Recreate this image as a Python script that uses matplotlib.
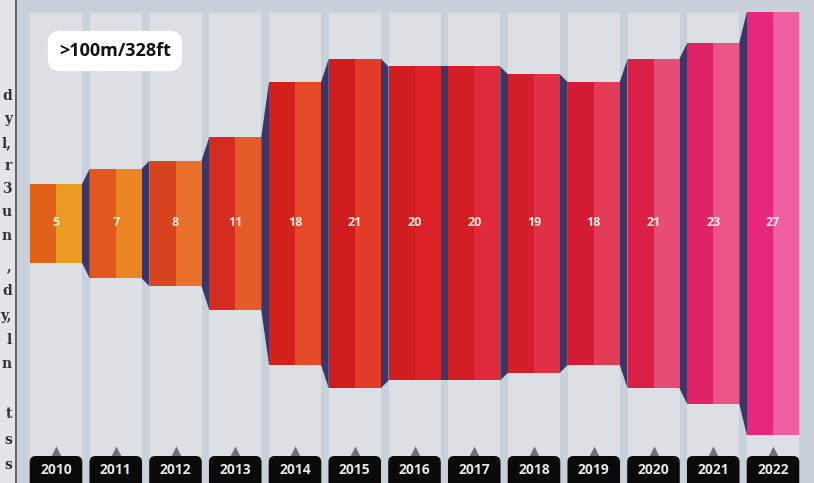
import matplotlib.pyplot as plt
import matplotlib
from matplotlib.patches import Rectangle, Polygon, FancyBboxPatch
import numpy as np

matplotlib.rcParams['font.family'] = ['Open Sans', 'DejaVu Sans']

# data
years = ['2010', '2011', '2012', '2013', '2014', '2015', '2016',
         '2017', '2018', '2019', '2020', '2021', '2022']
counts = [5, 7, 8, 11, 18, 21, 20, 20, 19, 18, 21, 23, 27]
left_colors = ['#e0621a', '#e0581e', '#d84420', '#d42c1e', '#d2201a', '#d01c1c', '#d01e20',
               '#d21e22', '#d41e2a', '#d41c34', '#da2046', '#e02268', '#e8267e']
right_colors = ['#eb9a22', '#ec8424', '#e8702a', '#e45c2a', '#e44a28', '#e03c28', '#dc2228',
                '#e02a3c', '#e03048', '#e23c58', '#e64c74', '#ec5488', '#f060a0']
badge = '>100m/328ft'
side_letters = ['d', 'y', 'l,', 'r', '3', 'u', 'n', ',', 'd', 'y,', 'l', 'n', 't', 's', 's']
side_rows = [96, 119, 143, 166, 189, 212, 236, 266, 291, 316, 340, 364, 414, 440, 465]

W, H = 814, 483
pitch, colw = 59.75, 52.0      # px per column, column width px
unit = 15.7                    # px per count
x0px, ymid = 56.0, 223.5       # centre of first column, vertical centre of bars

fig = plt.figure(figsize=(W / 100, H / 100), dpi=100)
fig.patch.set_facecolor('#c8d1d9')
ax = fig.add_axes([0, 0, 1, 1])
ax.set_facecolor('#c8d1d9')
ax.set_xlim(-x0px / pitch, (W - x0px) / pitch)
ax.set_ylim(-(H - ymid) / unit, ymid / unit)
ax.axis('off')

half = colw / pitch / 2
col_top = (ymid - 13) / unit
ybot = -(H - ymid) / unit

# column backgrounds
for i in range(len(years)):
    ax.add_patch(Rectangle((i - half, ybot - 1), 2 * half, col_top - ybot + 1,
                           color='#dcdfe3', lw=0, zorder=1))

# bars, split into two tones, with dark sides between them
for i, v in enumerate(counts):
    h = v / 2
    ax.add_patch(Rectangle((i - half, -h), half, v, color=left_colors[i], lw=0, zorder=3))
    ax.add_patch(Rectangle((i, -h), half, v, color=right_colors[i], lw=0, zorder=3))
    if i > 0:
        hp = counts[i - 1] / 2
        xa, xb = i - 1 + half, i - half
        ax.add_patch(Polygon([(xa, hp), (xb, h), (xb, -h), (xa, -hp)],
                             closed=True, color='#3e3564', lw=0, zorder=2))
    ax.text(i, 0.05, str(v), ha='center', va='center', color='#fbeee2',
            fontsize=9, fontweight='bold', zorder=4)

# year tags at the bottom
tag_top = -(456 - ymid) / unit
for i, yr in enumerate(years):
    ax.add_patch(FancyBboxPatch((i - 0.44, ybot - 1), 0.88, tag_top - ybot + 1,
                                boxstyle='round,pad=0,rounding_size=0.1',
                                mutation_aspect=pitch / unit,
                                fc='#0a0a0a', ec='none', zorder=3))
    ax.plot(i, -(451 - ymid) / unit, marker='^', markersize=7, color='#6e7278',
            mec='none', zorder=2)
    ax.text(i, -(470 - ymid) / unit, yr, ha='center', va='center', color='#e6e6e6',
            fontsize=10, fontweight='bold', zorder=4)

# height badge
ax.text(115 / pitch - x0px / pitch, (ymid - 51) / unit, badge, ha='center', va='center',
        fontsize=13, fontweight='bold', color='#111111', zorder=5,
        bbox=dict(boxstyle='round,pad=0.62,rounding_size=0.7', fc='white', ec='none'))

# left margin strip with the ends of a text column
fig.add_artist(Rectangle((0, 0), 15 / W, 1, transform=fig.transFigure,
                         color='#e3e6e9', lw=0, zorder=5))
fig.add_artist(Rectangle((15 / W, 0), 2 / W, 1, transform=fig.transFigure,
                         color='#5e656d', lw=0, zorder=5))
for t, py in zip(side_letters, side_rows):
    fig.text(12 / W, 1 - py / H, t, ha='right', va='center', fontsize=10,
             family='DejaVu Serif', fontweight='bold', color='#333333', zorder=6)

plt.savefig('out.png', dpi=100)
